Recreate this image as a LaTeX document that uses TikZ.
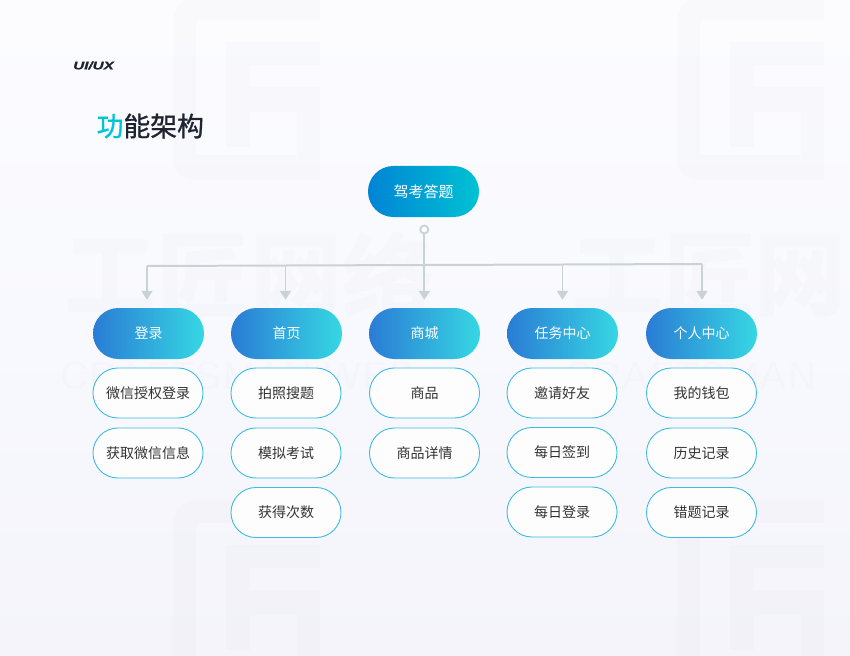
\documentclass[tikz,border=0pt]{standalone}
\usepackage{fontspec}
\setmainfont{Noto Sans CJK SC}
\newfontfamily\ttlfont[FakeBold=1]{Noto Sans CJK SC}
\newfontfamily\brandfont[FakeBold=1.2]{Liberation Sans}
\newfontfamily\wmfont[LetterSpace=3]{Liberation Sans}
\usetikzlibrary{arrows.meta}
\definecolor{bgtop}{HTML}{FCFCFF}
\definecolor{bgmid}{HTML}{F8F9FE}
\definecolor{bgbot}{HTML}{F4F4FA}
\definecolor{conn}{HTML}{C9D2D4}
\definecolor{rootL}{HTML}{0084D5}
\definecolor{rootR}{HTML}{00C2D3}
\definecolor{headL}{HTML}{2A7CD5}
\definecolor{headR}{HTML}{36D7E3}
\definecolor{pillline}{HTML}{3DBBE0}
\definecolor{txt}{HTML}{333333}
\definecolor{ttl}{HTML}{1F2430}
\definecolor{ttlc}{HTML}{00C3D8}
\tikzset{
  x=1pt,y=-1pt,
  pillbase/.style={rounded corners=25.4pt,minimum width=111pt,minimum height=51pt,inner sep=0pt,font=\fontsize{14}{16}\selectfont},
  rootbox/.style={pillbase,left color=rootL,right color=rootR,text=white,font=\fontsize{15}{17}\selectfont},
  headbox/.style={pillbase,left color=headL,right color=headR,text=white},
  itembox/.style={pillbase,rounded corners=24.9pt,draw=pillline,line width=0.9pt,fill=white,fill opacity=0.85,text opacity=1,minimum width=110pt,minimum height=50pt,text=txt},
  busline/.style={draw=conn,line width=2pt},
  arr/.style={draw=conn,line width=1.7pt,-{Triangle[width=11pt,length=9pt,fill=conn]},shorten >=8pt},
  wmchar/.style={text=black,text opacity=0.01,font=\bfseries\fontsize{92}{92}\selectfont,inner sep=0pt},
  wmlatin/.style={text=black,text opacity=0.01,font=\wmfont\fontsize{39}{39}\selectfont,inner sep=0pt},
}
\newcommand{\wmlogo}[2]{%
  \begin{scope}[shift={(#1,#2)}]
    \fill[black,fill opacity=0.012,even odd rule]
      (147,-3) -- (24,-3) .. controls (8,-3) and (0,8) .. (0,24) -- (0,158)
        .. controls (0,172) and (8,180) .. (24,180) -- (147,180) -- (147,87)
      -- (77,87) -- (77,112) -- (124,112) -- (124,155) -- (28,155)
        .. controls (25,155) and (23,153) .. (23,150) -- (23,25)
        .. controls (23,22) and (25,20) .. (28,20) -- (147,20) -- cycle
      (147,42) -- (53,42) -- (53,147) -- (77,147) -- (77,65) -- (147,65) -- cycle;
  \end{scope}}
\begin{document}
\begin{tikzpicture}
\useasboundingbox (0,0) rectangle (850,655);
\begin{scope}
\clip (0,0) rectangle (850,655);
\shade[top color=bgtop,bottom color=bgmid] (0,0) rectangle (850,330);
\shade[top color=bgmid,bottom color=bgbot] (0,330) rectangle (850,655);
\wmlogo{173}{0}
\wmlogo{677}{0}
\wmlogo{173}{503}
\wmlogo{677}{503}
\node[wmchar] (wa) at (110,276) {工};
\node[wmchar] (wb) at (203,276) {匠};
\node[wmchar] (wc) at (296,276) {网};
\node[wmchar] (wd) at (388,276) {络};
\node[wmchar] (we) at (617,276) {工};
\node[wmchar] (wf) at (710,276) {匠};
\node[wmchar] (wg) at (800,276) {网};
\node[wmlatin,anchor=west] (wh) at (60,376) {CRAFTSMAN WEB};
\node[wmlatin,anchor=west] (wj) at (564,376) {CRAFTSMAN};
\end{scope}

\node[anchor=west,inner sep=0pt,xscale=1.38,text=ttl,font=\brandfont\bfseries\itshape\fontsize{11}{11}\selectfont] (brand) at (73,65.5) {UI/UX};
\node[anchor=west,inner sep=0pt,font=\ttlfont\fontsize{26.8}{28}\selectfont] (title) at (96.5,126) {\textcolor{ttlc}{功}\textcolor{ttl}{能架构}};

\node[rootbox] (root) at (423.5,191.5) {驾考答题};
\node[headbox] (h1) at (148.5,333.5) {登录};
\node[headbox] (h2) at (286.5,333.5) {首页};
\node[headbox] (h3) at (424.5,333.5) {商城};
\node[headbox] (h4) at (562.5,333.5) {任务中心};
\node[headbox] (h5) at (701.5,333.5) {个人中心};

\node[itembox] (a1) at (148,393) {微信授权登录};
\node[itembox] (a2) at (148,453) {获取微信信息};
\node[itembox] (b1) at (286,393) {拍照搜题};
\node[itembox] (b2) at (286,453) {模拟考试};
\node[itembox] (b3) at (286,512.5) {获得次数};
\node[itembox] (c1) at (424.5,393) {商品};
\node[itembox] (c2) at (424.5,453) {商品详情};
\node[itembox] (d1) at (562,393) {邀请好友};
\node[itembox] (d2) at (562,452.5) {每日签到};
\node[itembox] (d3) at (562,512) {每日登录};
\node[itembox] (e1) at (701.5,393) {我的钱包};
\node[itembox] (e2) at (701.5,453) {历史记录};
\node[itembox] (e3) at (701.5,512.5) {错题记录};

\node[circle,draw=conn,line width=1.9pt,fill=white,minimum size=8pt,inner sep=0pt] (dot) at (424.3,229.5) {};
\coordinate (bl) at (147,266);
\coordinate (bm2) at (285.5,265.5);
\coordinate (bm4) at (562.5,264.5);
\coordinate (br) at (702,264);
\draw[busline] (bl) -- (br);
\draw[arr] (bl) -- (bl |- h1.north);
\draw[arr] (bm2) -- (bm2 |- h2.north);
\draw[arr] (dot) -- (dot |- h3.north);
\draw[arr] (bm4) -- (bm4 |- h4.north);
\draw[arr] (br) -- (br |- h5.north);
\end{tikzpicture}
\end{document}
